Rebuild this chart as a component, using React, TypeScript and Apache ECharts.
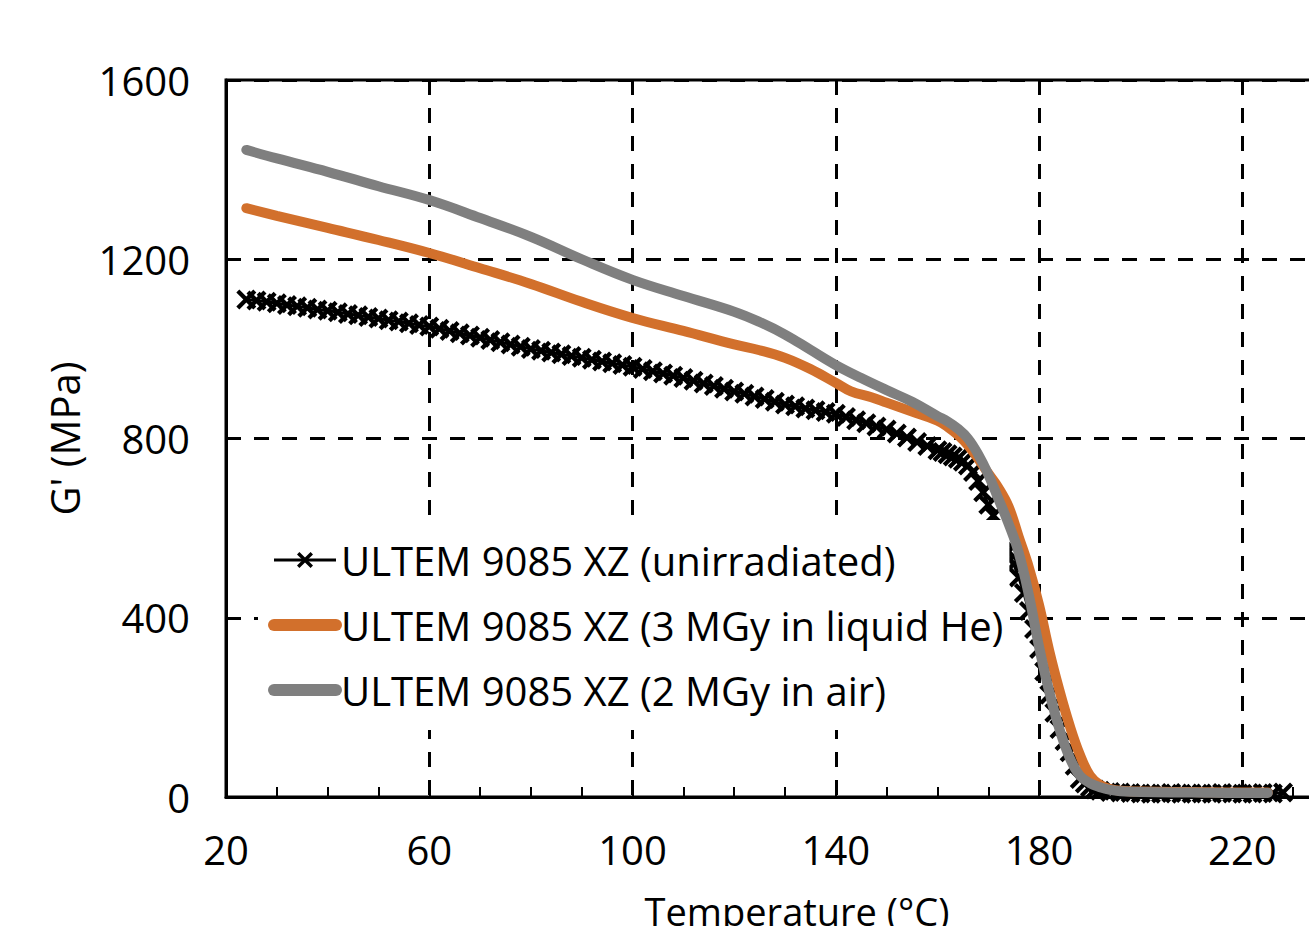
import React, { useEffect, useRef } from "react";
import * as echarts from "echarts";

const xTickMin = 20;
const xTickMax = 240;
const xTickStep = 40;
const yTickMin = 0;
const yTickMax = 1600;
const yTickStep = 400;

const seriesNames = [
  "ULTEM 9085 XZ (unirradiated)",
  "ULTEM 9085 XZ (3 MGy in liquid He)",
  "ULTEM 9085 XZ (2 MGy in air)",
];

const blackTemp = [
  24, 26, 28, 30, 32, 34, 36, 38, 40, 42, 44, 46, 48, 50, 52, 54, 56, 58, 60, 62,
  64, 66, 68, 70, 72, 74, 76, 78, 80, 82, 84, 86, 88, 90, 92, 94, 96, 98, 100, 102,
  104, 106, 108, 110, 112, 114, 116, 118, 120, 122, 124, 126, 128, 130, 132, 134,
  136, 138, 140, 142, 144, 146, 148, 150, 152, 154, 156, 158, 160, 161, 162, 163,
  164, 165, 166, 167, 168, 169, 170, 171, 172, 173, 174, 175, 176, 177, 178, 179,
  180, 181, 182, 183, 184, 185, 186, 187, 188, 189, 190, 191, 192, 194, 196, 198,
  200, 202, 204, 206, 208, 210, 212, 214, 216, 218, 220, 222, 224, 226, 228,
];
const blackG = [
  1110, 1108, 1105, 1102, 1098, 1095, 1092, 1088, 1085, 1082, 1078, 1075, 1071, 1068,
  1064, 1061, 1057, 1053, 1050, 1045, 1040, 1035, 1030, 1025, 1020, 1015, 1010, 1005,
  1000, 996, 992, 988, 984, 980, 976, 972, 968, 964, 960, 955, 950, 945, 940, 935,
  929, 923, 917, 911, 905, 900, 894, 888, 882, 876, 872, 867, 863, 859, 855, 848,
  841, 834, 827, 820, 811, 802, 792, 783, 774, 770, 765, 760, 755, 748, 740, 725,
  705, 680, 652, 628, 603, 576, 548, 520, 490, 455, 415, 375, 330, 280, 228, 188,
  152, 125, 100, 70, 40, 30, 22, 17, 14, 11, 10, 9,
  8, 7, 8, 9, 7, 8, 8, 7, 9, 8, 7, 8, 9, 8, 10,
];

const orangeTemp = [
  24, 30, 40, 50, 60, 70, 80, 90, 100, 110, 120, 125, 130, 135, 140, 143, 147, 150,
  155, 160, 162, 164, 166, 168, 170, 172, 174, 176, 178, 180, 182, 184, 186, 188,
  190, 192, 194, 196, 200, 210, 220, 225,
];
const orangeG = [
  1314, 1297, 1270, 1243, 1214, 1180, 1145, 1105, 1069, 1040, 1010, 997, 980, 955,
  924, 905, 892, 880, 860, 840, 826, 808, 785, 755, 722, 690, 648, 580, 512, 428,
  326, 238, 160, 95, 48, 27, 18, 14, 12, 11, 10, 10,
];

const grayTemp = [
  24, 30, 40, 50, 60, 70, 80, 90, 100, 110, 120, 125, 130, 135, 140, 145, 150, 155,
  160, 162, 164, 166, 168, 170, 172, 174, 176, 178, 180, 182, 184, 186, 188, 190,
  192, 194, 196, 200, 210, 220, 225,
];
const grayG = [
  1444, 1425, 1395, 1363, 1332, 1292, 1250, 1200, 1154, 1118, 1083, 1060, 1032, 998,
  964, 935, 908, 882, 850, 838, 822, 800, 765, 720, 665, 610, 545, 450, 335, 235,
  152, 88, 48, 31, 22, 16, 13, 11, 10, 9, 9,
];

const pairs = (xs: number[], ys: number[]) => xs.map((x, i) => [x, ys[i]]);

const FONT = "Open Sans";
const CROSS =
  "path://M0,1.5L1.5,0L5,3.5L8.5,0L10,1.5L6.5,5L10,8.5L8.5,10L5,6.5L1.5,10L0,8.5L3.5,5Z";

export default function App() {
  const ref = useRef<HTMLDivElement>(null);
  useEffect(() => {
    if (!ref.current) return;
    const chart = echarts.init(ref.current, undefined, { renderer: "svg" });
    const grid = { color: "#000", type: [15, 13] as number[], width: 3 };
    chart.setOption({
      animation: false,
      backgroundColor: "#fff",
      grid: {
        left: 226,
        top: 80,
        right: 56,
        bottom: 163,
        show: true,
        borderColor: "#000",
        borderWidth: 3,
      },
      xAxis: {
        type: "value",
        min: xTickMin,
        max: xTickMax,
        interval: xTickStep,
        name: "Temperature (°C)",
        nameLocation: "middle",
        nameGap: 95,
        nameTextStyle: { fontSize: 38, fontFamily: FONT, color: "#000", padding: [0, 0, 0, 24] },
        axisLine: { lineStyle: { color: "#000", width: 3 } },
        axisTick: { inside: true, length: 10, lineStyle: { color: "#000", width: 2 } },
        minorTick: { show: true, splitNumber: 4, length: 10, lineStyle: { color: "#000", width: 2 } },
        splitLine: { show: true, lineStyle: grid },
        axisLabel: {
          fontSize: 40,
          fontFamily: FONT,
          color: "#000",
          margin: 32,
          showMaxLabel: false,
          formatter: (v: number) => String(v),
        },
      },
      yAxis: {
        type: "value",
        min: yTickMin,
        max: yTickMax,
        interval: yTickStep,
        name: "G' (MPa)",
        nameLocation: "middle",
        nameGap: 142,
        nameTextStyle: { fontSize: 40, fontFamily: FONT, color: "#000" },
        axisLine: { show: true, lineStyle: { color: "#000", width: 3 } },
        axisTick: { show: false },
        splitLine: { show: true, lineStyle: grid },
        axisLabel: {
          fontSize: 40,
          fontFamily: FONT,
          color: "#000",
          margin: 36,
          formatter: (v: number) => String(v),
        },
      },
      legend: {
        orient: "vertical",
        left: 258,
        top: 520,
        backgroundColor: "#fff",
        padding: [20, 6, 20, 10],
        itemGap: 25,
        itemWidth: 62,
        itemHeight: 20,
        textStyle: { fontSize: 40, fontFamily: FONT, color: "#000", lineHeight: 40 },
        data: [
          { name: seriesNames[0], lineStyle: { width: 3, color: "#000" } },
          {
            name: seriesNames[1],
            lineStyle: { width: 12, color: "#d2702c", cap: "round" },
            itemStyle: { opacity: 0 },
          },
          {
            name: seriesNames[2],
            lineStyle: { width: 12, color: "#7f7f7f", cap: "round" },
            itemStyle: { opacity: 0 },
          },
        ],
      },
      series: [
        {
          name: seriesNames[0],
          type: "line",
          data: pairs(blackTemp, blackG),
          symbol: CROSS,
          symbolSize: 20,
          showSymbol: true,
          itemStyle: { color: "#000" },
          lineStyle: { color: "#000", width: 3 },
          z: 2,
        },
        {
          name: seriesNames[1],
          type: "line",
          data: pairs(orangeTemp, orangeG),
          symbol: "none",
          smooth: 0.4,
          itemStyle: { color: "#d2702c" },
          lineStyle: { color: "#d2702c", width: 10, cap: "round" },
          z: 3,
        },
        {
          name: seriesNames[2],
          type: "line",
          data: pairs(grayTemp, grayG),
          symbol: "none",
          smooth: 0.4,
          itemStyle: { color: "#7f7f7f" },
          lineStyle: { color: "#7f7f7f", width: 10, cap: "round" },
          z: 4,
        },
      ],
    });
    return () => chart.dispose();
  }, []);
  return (
    <div
      style={{
        position: "fixed",
        left: 0,
        top: 0,
        width: 1309,
        height: 926,
        overflow: "hidden",
        background: "#fff",
      }}
    >
      <div ref={ref} style={{ width: 1400, height: 960 }} />
    </div>
  );
}
